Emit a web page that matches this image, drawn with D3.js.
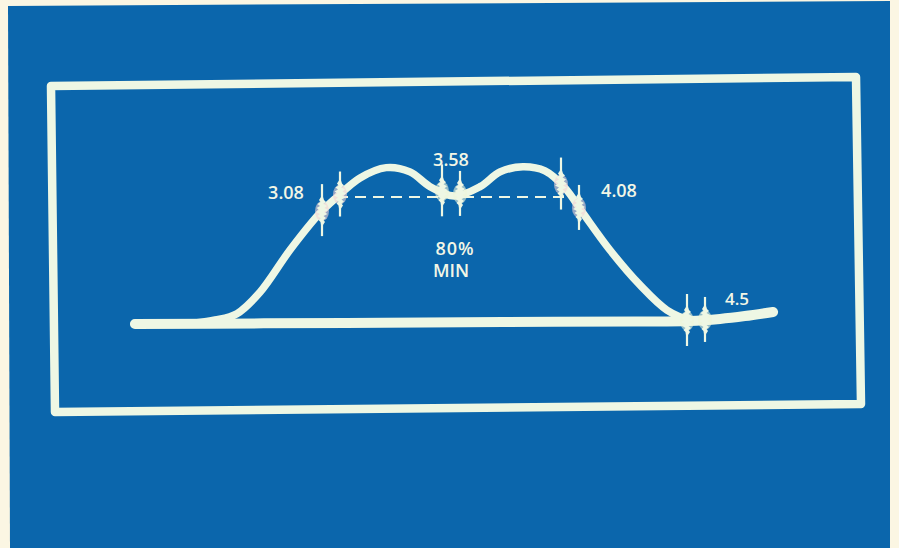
<!DOCTYPE html>
<html><head><meta charset="utf-8">
<script src="https://cdn.jsdelivr.net/npm/d3@7"></script>
<style>html,body{margin:0;padding:0;background:#fbf6e3;}svg{display:block;}</style>
</head><body>
<svg id="c" width="899" height="548"></svg>
<script>
// ---- data (frequency in MHz, relative response in %) ----
const markerFreqs  = [3.08, 3.58, 4.08, 4.5];
const markerLabels = ["3.08", "3.58", "4.08", "4.5"];
const curveFreq = [2.513, 2.597, 2.688, 2.784, 2.909, 3.034, 3.105, 3.201, 3.310, 3.409, 3.493, 3.593, 3.702, 3.786, 3.882, 3.975, 4.059, 4.123, 4.213, 4.313, 4.403, 4.48, 4.53];
const curveResp = [0.6, 2.5, 6.5, 20, 46.6, 69.9, 80, 92, 98.5, 95.8, 86.5, 80.6, 86.5, 95.8, 99.0, 96.4, 85.7, 69.9, 46.6, 24.6, 8.8, 2.6, 1.9];
const baseFreq = [2.263, 2.8, 3.3, 3.8, 4.3, 4.48, 4.58, 4.663, 4.757];
const baseResp = [0, 0.4, 0.8, 1.2, 1.6, 1.9, 3.2, 5.0, 7.6];
const minLevel = 80;
const minSpan = [3.105, 4.057];
const minLabel = ["80%", "MIN"];

const svg = d3.select("#c");
const BLUE = "#0b66ac", CREAM = "#eef7e4";

// background photo panel
svg.append("path").attr("d", "M8,6 L890,1 L890,548 L10,548 Z").attr("fill", BLUE);
// white frame
svg.append("path").attr("d", "M51,86 L856,77 L861,404 L55,412 Z")
  .attr("fill", "none").attr("stroke", CREAM).attr("stroke-width", 8.5).attr("stroke-linejoin", "round");

const x = d3.scaleLinear().domain(markerFreqs).range([331, 451, 570, 696]);
const y = d3.scaleLinear().domain([0, minLevel]).range([324, 197]);

const line = d3.line().x(d => x(d[0])).y(d => y(d[1])).curve(d3.curveCatmullRom.alpha(0.5));

const basePts = baseFreq.map((f, i) => [f, baseResp[i]]);
const curvePts = curveFreq.map((f, i) => [f, curveResp[i]]);

svg.append("path").attr("d", line(basePts)).attr("fill", "none")
  .attr("stroke", CREAM).attr("stroke-width", 10).attr("stroke-linecap", "round");
svg.append("path").attr("d", line(curvePts)).attr("fill", "none")
  .attr("stroke", CREAM).attr("stroke-width", 7.5).attr("stroke-linecap", "round");

// 80% min dashed line
svg.append("line").attr("x1", x(minSpan[0])).attr("x2", x(minSpan[1]))
  .attr("y1", y(minLevel)).attr("y2", y(minLevel))
  .attr("stroke", CREAM).attr("stroke-width", 2).attr("stroke-dasharray", "11,7");

// marker pips (pairs of bursts on the trace)
function interp(fs, rs, f) {
  const i = Math.max(1, Math.min(fs.length - 1, d3.bisectLeft(fs, f)));
  const t = (f - fs[i - 1]) / (fs[i] - fs[i - 1]);
  return rs[i - 1] + t * (rs[i] - rs[i - 1]);
}
// burst outline: [dy, left half-width, right half-width]
const burst = [[-14,1,1],[-11,3,2],[-9,1.5,4],[-7,4.5,1.5],[-5,2,5],[-3,5.5,2.5],[-1,2.5,6],[1,6,2],[3,2,5.5],[5,4.5,1.5],[7,1.5,4],[9,3.5,1.5],[11,1.5,3],[14,1,1]];
const pipOffsets = [-9, 9];
const pipLen = [[-27, 25], [-23, 22]];
markerFreqs.forEach((f, k) => {
  pipOffsets.forEach((o, j) => {
    const px = x(f) + o;
    const pf = x.invert(px);
    const resp = f > 4.3 ? interp(baseFreq, baseResp, pf) : interp(curveFreq, curveResp, pf);
    const py = y(resp);
    svg.append("ellipse").attr("cx", px).attr("cy", py).attr("rx", 7).attr("ry", 10)
      .attr("fill", k === 0 || k === 2 ? "#f3d2d4" : "#eef5d8").attr("opacity", 0.6);
    svg.append("line").attr("x1", px).attr("x2", px)
      .attr("y1", py + pipLen[j][0]).attr("y2", py + pipLen[j][1])
      .attr("stroke", CREAM).attr("stroke-width", 2.2);
    const left = burst.map(b => [px - b[1], py + b[0]]);
    const right = burst.slice().reverse().map(b => [px + b[2], py + b[0]]);
    svg.append("path").attr("d", d3.line()(left.concat(right)) + "Z").attr("fill", CREAM);
  });
});

// labels
const font = "'Open Sans', 'DejaVu Sans', sans-serif";
const labelPos = [[-45, 2], [0, -31], [49, 0], [41, -16]];
markerFreqs.forEach((f, k) => {
  const resp = k === 3 ? interp(baseFreq, baseResp, f) : minLevel;
  svg.append("text").attr("x", x(f) + labelPos[k][0]).attr("y", y(resp) + labelPos[k][1])
    .attr("text-anchor", "middle").attr("fill", "#f2f6e6")
    .attr("font-family", font).attr("font-size", k === 3 ? 17 : 18).attr("font-weight", 600)
    .text(markerLabels[k]);
});
svg.append("text").attr("x", 455).attr("y", y(minLevel) + 58).attr("text-anchor", "middle")
  .attr("fill", "#f2f6e6").attr("font-family", font).attr("font-size", 18).attr("font-weight", 600)
  .attr("letter-spacing", 1).text(minLabel[0]);
svg.append("text").attr("x", 451).attr("y", y(minLevel) + 80).attr("text-anchor", "middle")
  .attr("fill", "#f2f6e6").attr("font-family", font).attr("font-size", 18).attr("font-weight", 600)
  .text(minLabel[1]);
</script>
</body></html>
